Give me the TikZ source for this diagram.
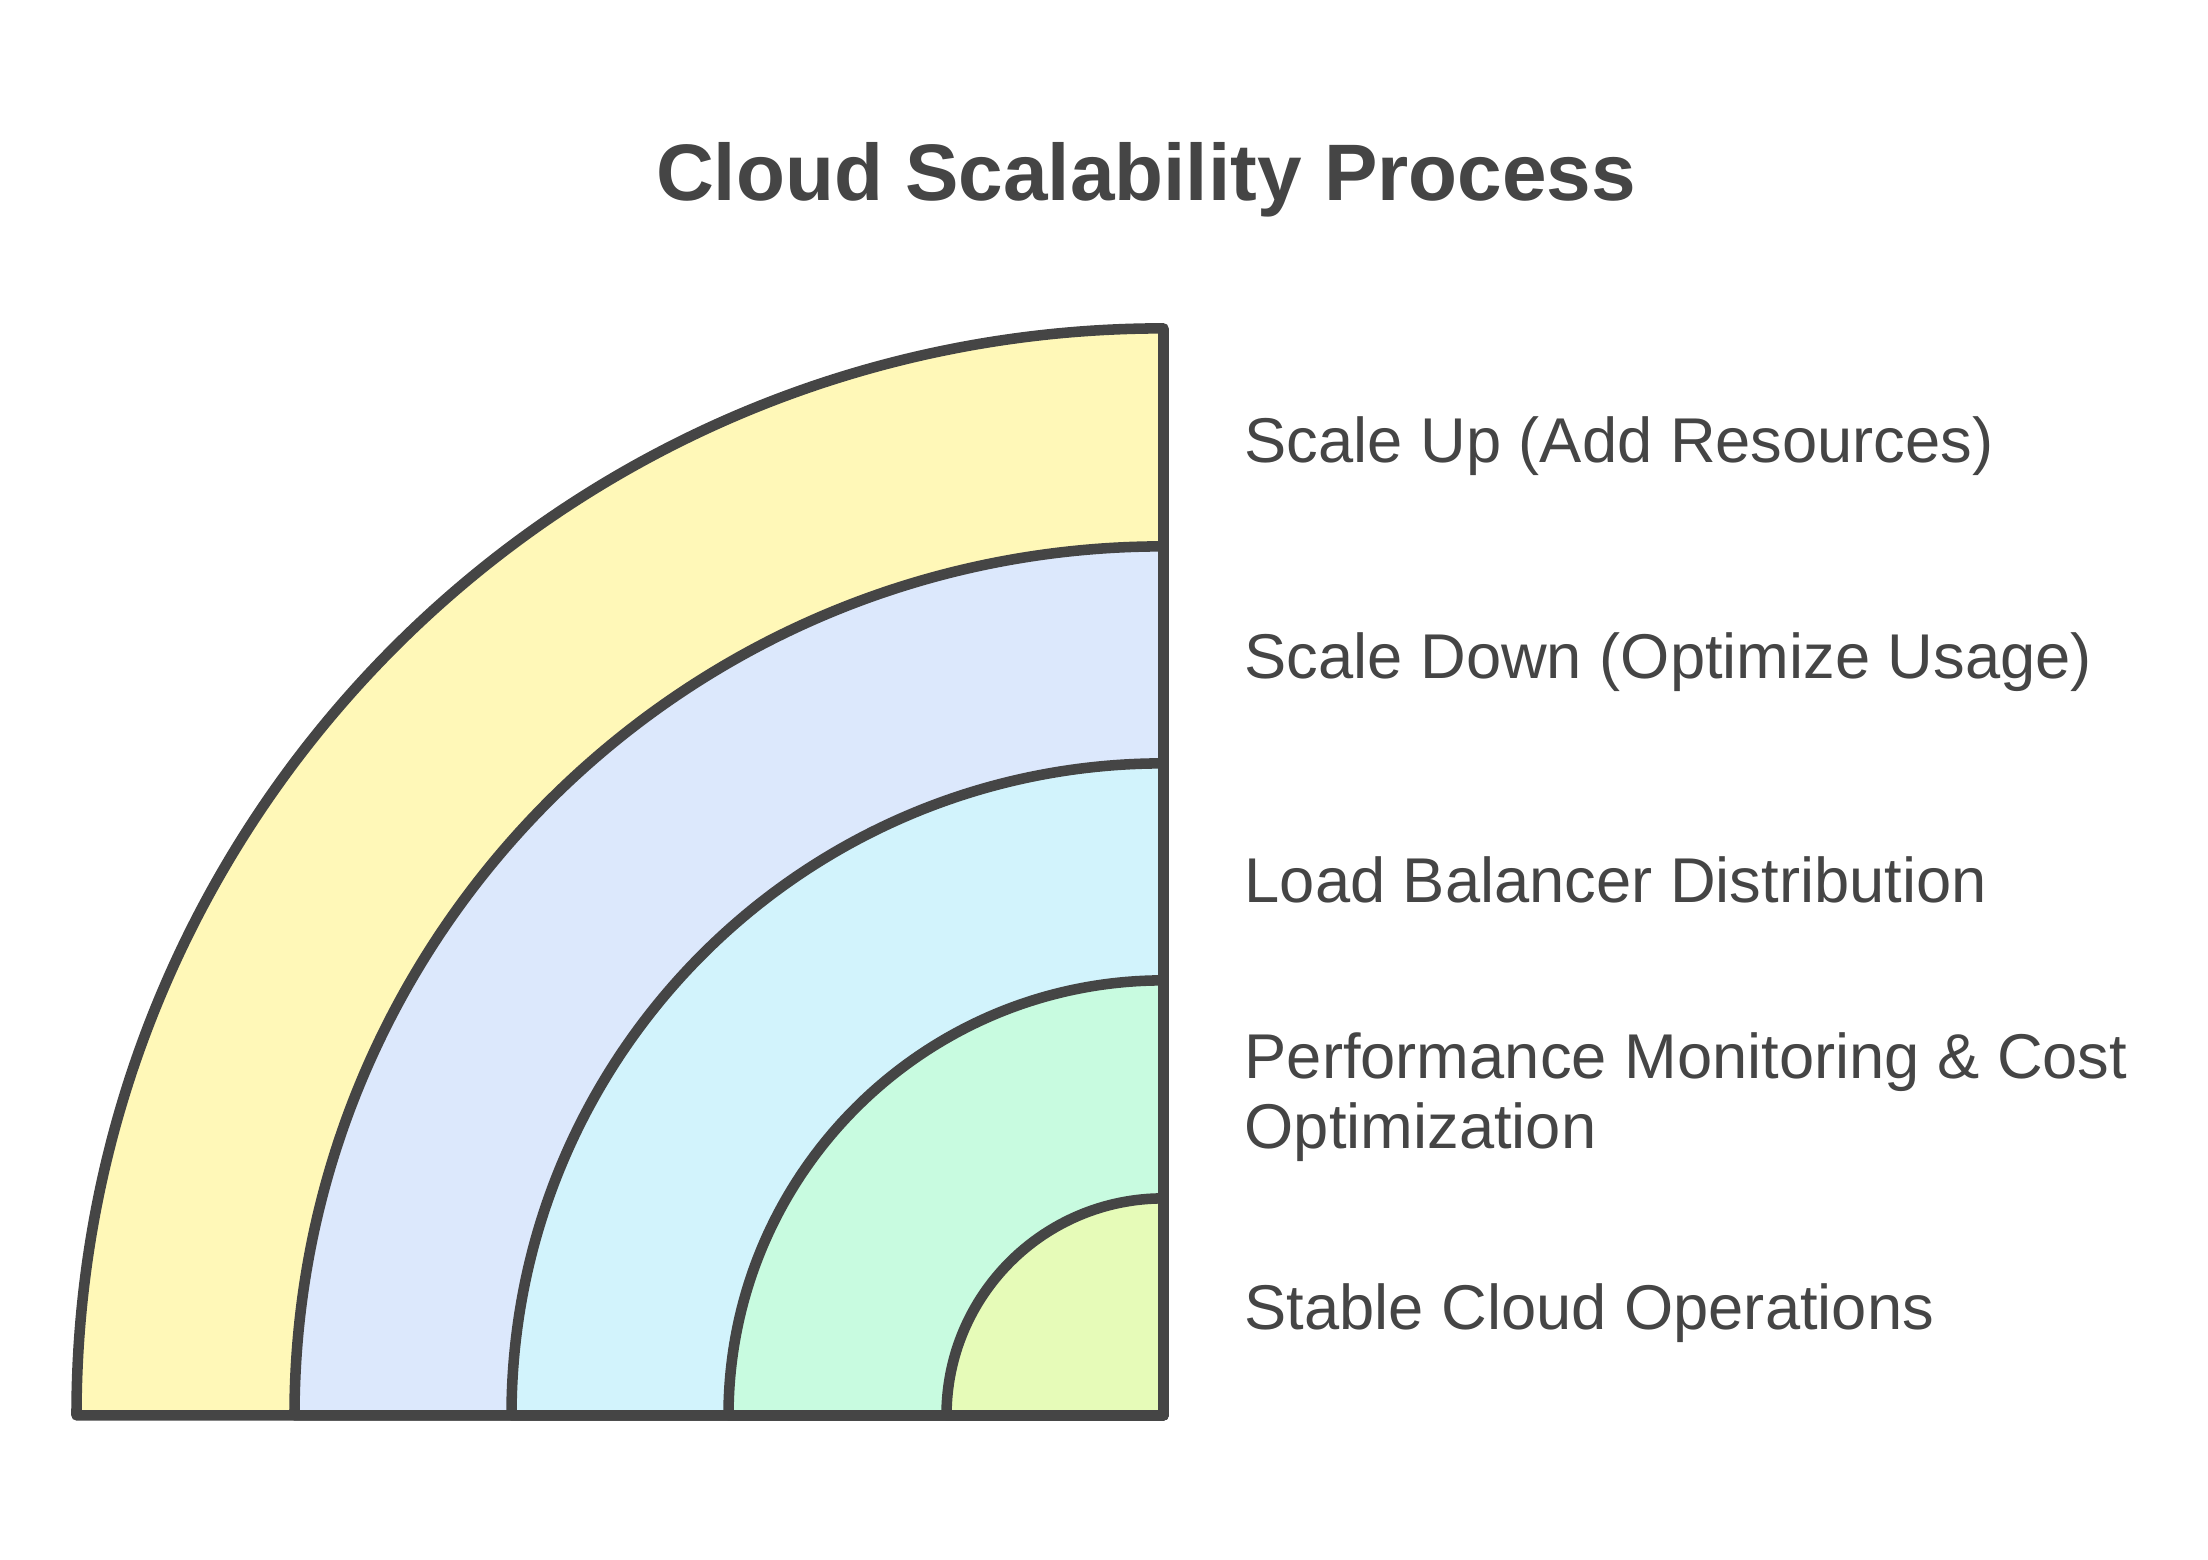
\documentclass[tikz,border=0pt]{standalone}
\usepackage{fontspec}
\setmainfont{Liberation Sans}
\usetikzlibrary{positioning}
\definecolor{ink}{HTML}{454545}
\definecolor{ringyellow}{HTML}{FFF8B8}
\definecolor{ringblue}{HTML}{DCE8FC}
\definecolor{ringcyan}{HTML}{D2F3FC}
\definecolor{ringgreen}{HTML}{C8FBE0}
\definecolor{ringlime}{HTML}{E6FBB8}
\tikzstyle{ring}=[draw=ink, line width=3pt, line join=round, line cap=round]
\tikzstyle{label}=[anchor=west, text=ink, font=\fontsize{18}{20}\selectfont, align=left, inner sep=0pt]
\tikzstyle{heading}=[text=ink, font=\fontsize{22.8}{26}\selectfont\bfseries]

\begin{document}
\begin{tikzpicture}
      \useasboundingbox (0, 0) rectangle (22.08, 15.6);
      \coordinate (c) at (11.635, 1.446);

      \node[heading] (title) at (11.46, 13.80) {Cloud Scalability Process};

      \draw[ring, fill=ringyellow] (c) -- ++(-10.87, 0)
        arc[start angle=180, end angle=90, radius=10.87cm] -- cycle;
      \draw[ring, fill=ringblue] (c) -- ++(-8.69, 0)
        arc[start angle=180, end angle=90, radius=8.69cm] -- cycle;
      \draw[ring, fill=ringcyan] (c) -- ++(-6.52, 0)
        arc[start angle=180, end angle=90, radius=6.52cm] -- cycle;
      \draw[ring, fill=ringgreen] (c) -- ++(-4.35, 0)
        arc[start angle=180, end angle=90, radius=4.35cm] -- cycle;
      \draw[ring, fill=ringlime] (c) -- ++(-2.17, 0)
        arc[start angle=180, end angle=90, radius=2.17cm] -- cycle;

      \node[label] (up) at (12.44, 11.14) {Scale Up (Add Resources)};
      \node[label] (down) at (12.44, 8.98) {Scale Down (Optimize Usage)};
      \node[label] (balance) at (12.44, 6.80) {Load Balancer Distribution};
      \node[label] (monitor) at (12.44, 4.63) {Performance Monitoring \& Cost\\Optimization};
      \node[label] (stable) at (12.44, 2.47) {Stable Cloud Operations};
    \end{tikzpicture}
\end{document}
